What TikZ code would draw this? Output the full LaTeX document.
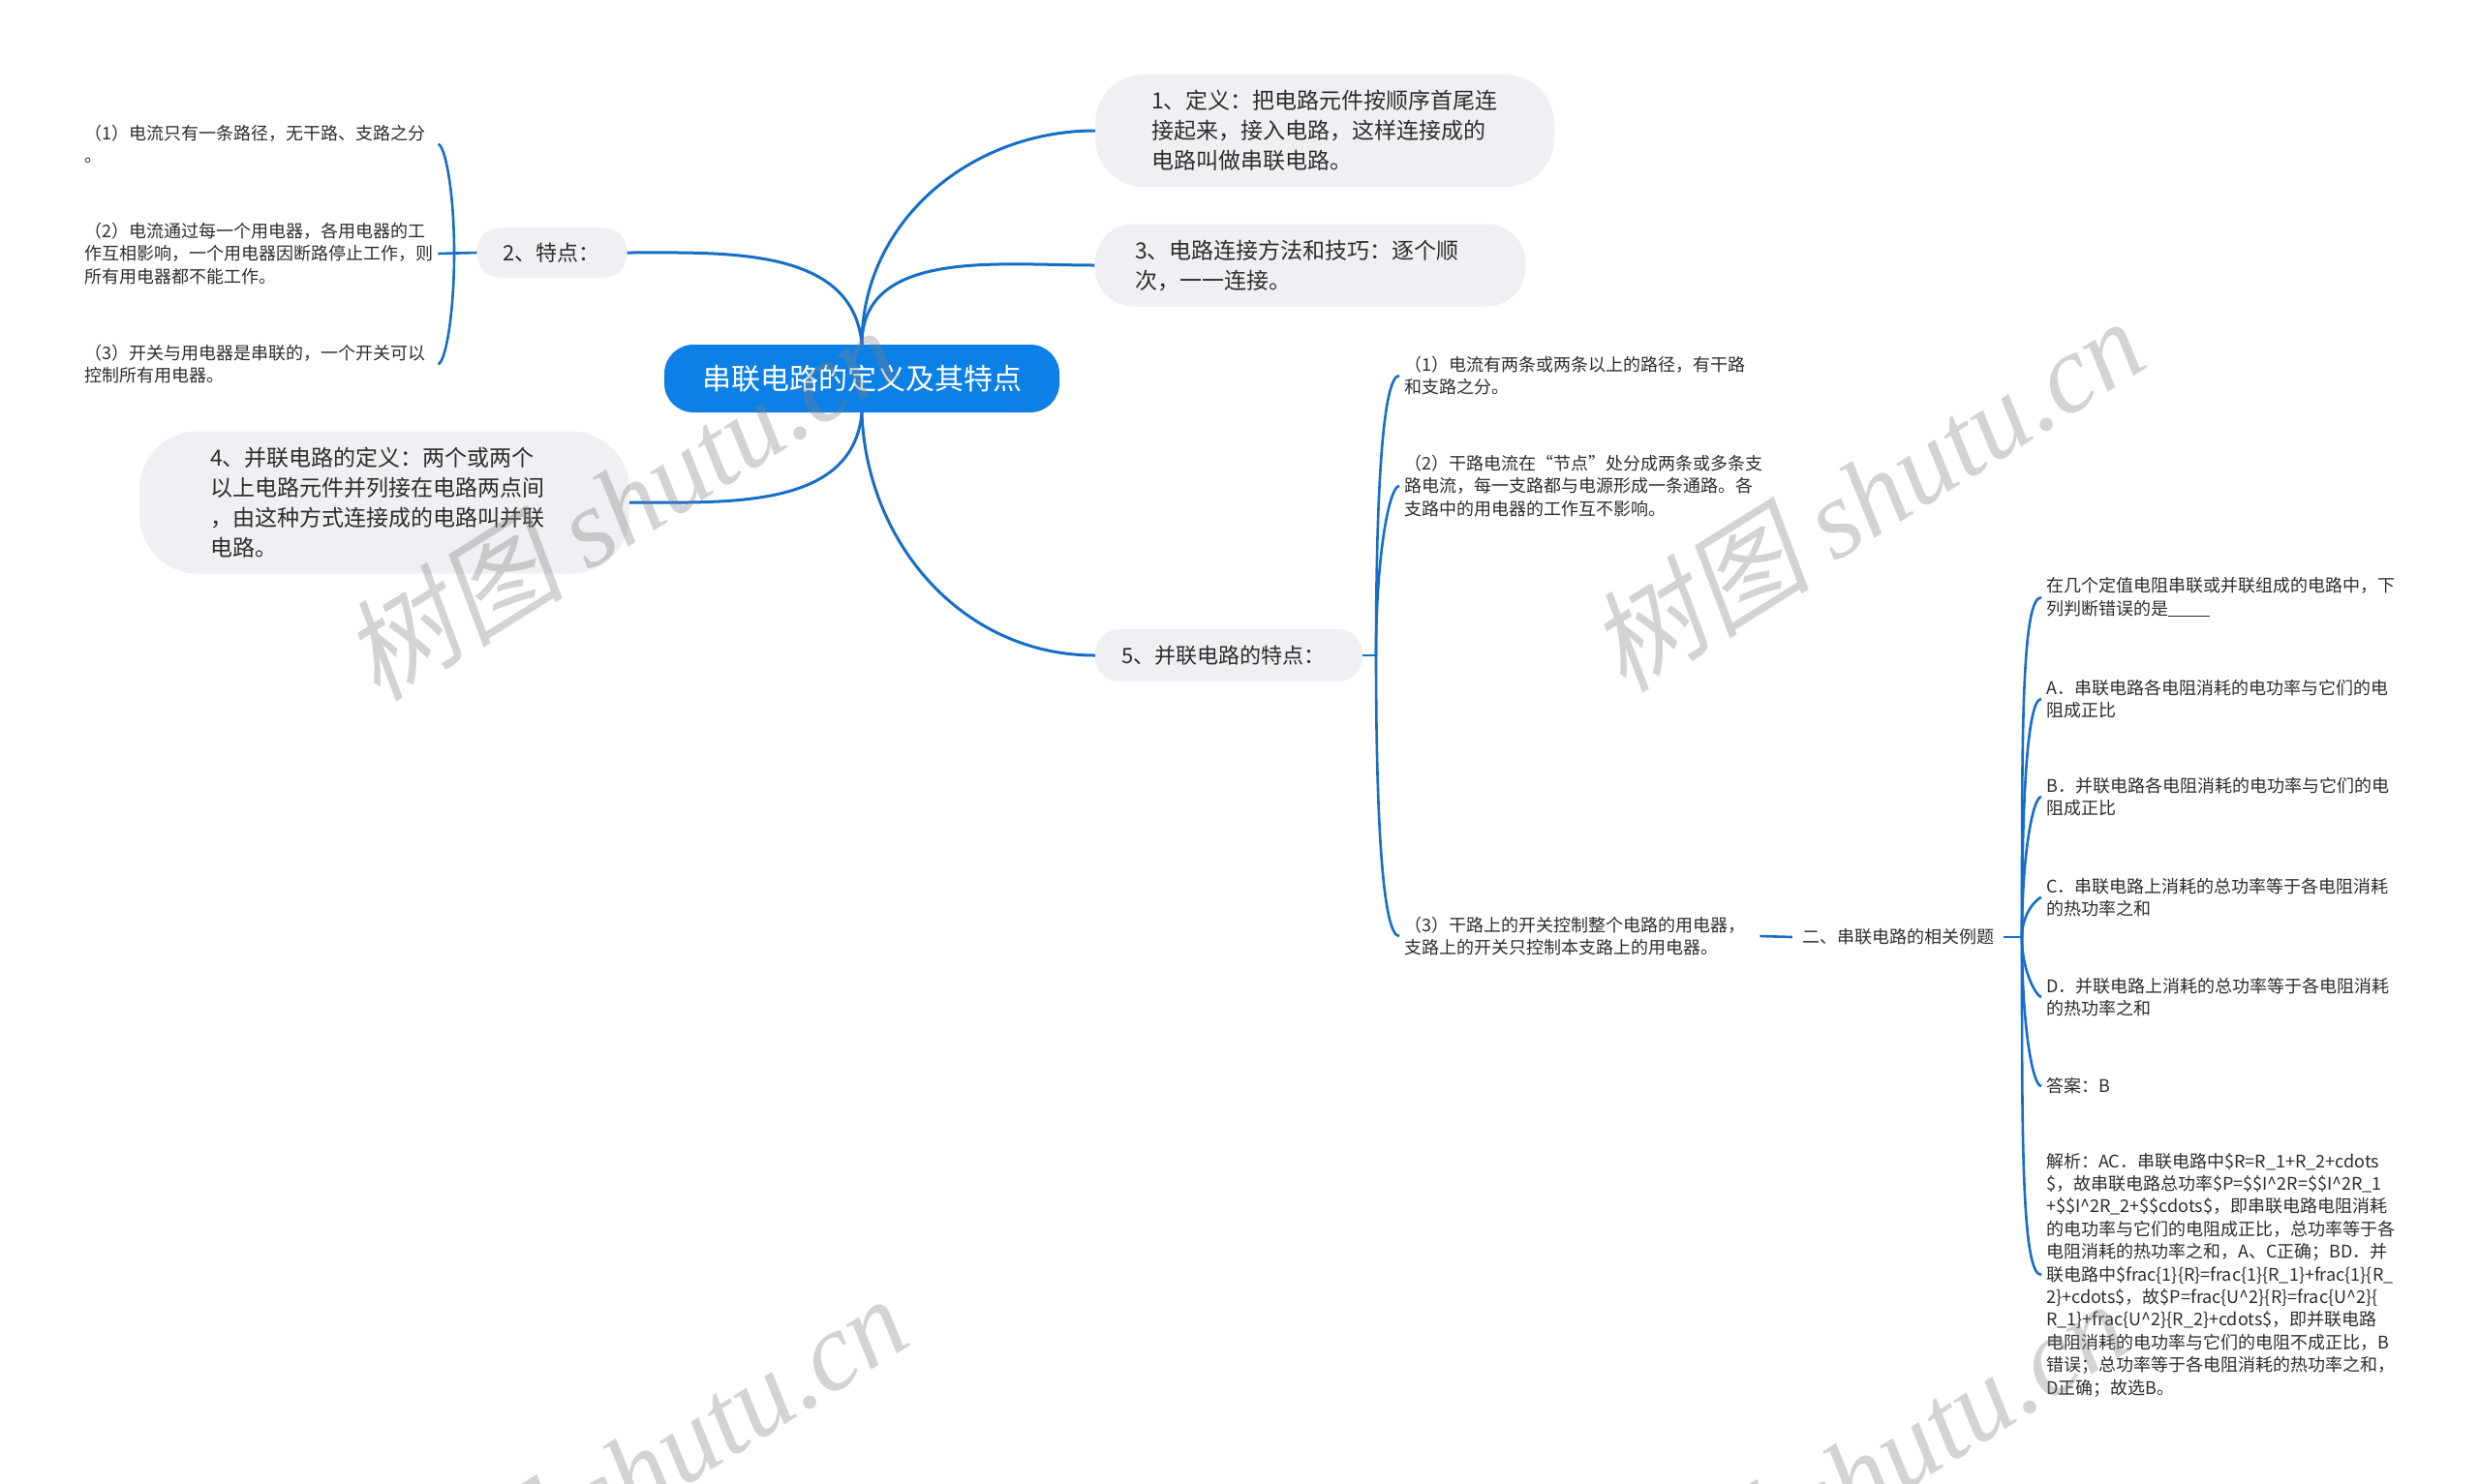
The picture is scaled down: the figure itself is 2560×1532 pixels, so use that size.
\documentclass[tikz,border=0pt]{standalone}
\usepackage{fontspec}
\setmainfont{Noto Sans CJK SC}
\newfontfamily\wmcjk[FakeSlant=0.2]{Noto Sans CJK SC}
\newfontfamily\wmlatin{Liberation Serif}

\definecolor{linkblue}{RGB}{22,110,200}
\definecolor{rootblue}{RGB}{12,128,230}
\definecolor{boxgray}{RGB}{238,240,243}
\definecolor{txtgray}{RGB}{45,45,45}

\tikzset{
	root/.style={fill=rootblue, text=white, rounded corners=30pt,
		minimum width=408pt, minimum height=70pt,
		font=\fontsize{30}{36}\selectfont},
	topic/.style={fill=boxgray, text=txtgray, align=left,
		font=\fontsize{23}{31}\selectfont},
	leaf/.style={text=txtgray, align=left, inner sep=5pt,
		font=\fontsize{18}{23.4}\selectfont},
	link/.style={draw=linkblue, line width=3pt},
	sublink/.style={draw=linkblue, line width=2.6pt,
		out looseness=1.5, in looseness=0.15},
	wmark/.style={text=gray, text opacity=0.35, rotate=32,
		font=\fontsize{115}{115}\selectfont}
}

\begin{document}
\begin{tikzpicture}[x=1pt, y=1pt]
	\useasboundingbox (0,0) rectangle (2560,-1532);
	% centre and first level
	\node[root] (main) at (890,-391) {串联电路的定义及其特点};
	\node[topic, minimum width=474pt, minimum height=116pt, text width=358pt, rounded corners=50pt] (def1) at (1368,-135)
		{1、定义：把电路元件按顺序首尾连\\接起来，接入电路，这样连接成的\\电路叫做串联电路。};
	\node[topic, minimum width=445pt, minimum height=85pt, text width=362pt, rounded corners=40pt] (way3) at (1353,-274)
		{3、电路连接方法和技巧：逐个顺\\次，一一连接。};
	\node[topic, minimum width=155pt, minimum height=52pt, text width=102pt, rounded corners=24pt,
		font=\fontsize{22}{28}\selectfont] (feat2) at (570,-261) {2、特点：};
	\node[topic, minimum width=506pt, minimum height=147pt, text width=360pt, rounded corners=60pt] (def4) at (397,-519)
		{4、并联电路的定义：两个或两个\\以上电路元件并列接在电路两点间\\，由这种方式连接成的电路叫并联\\电路。};
	\node[topic, minimum width=276pt, minimum height=54pt, text width=222pt, rounded corners=25pt,
		font=\fontsize{22}{28}\selectfont] (feat5) at (1269,-677) {5、并联电路的特点：};

	\draw[link] (main.north) to[out=90, in=180] (def1.west);
	\draw[link] (main.north) to[out=90, in=180] (way3.west);
	\draw[link] (main.north) to[out=95, in=0] (feat2.east);
	\draw[link] (main.south) to[out=-95, in=0] (def4.east);
	\draw[link] (main.south) to[out=-88, in=180] (feat5.west);

	% series circuit features
	\node[leaf, anchor=west, text width=360pt] (l1) at (82,-149)
		{（1）电流只有一条路径，无干路、支路之分\\。};
	\node[leaf, anchor=west, text width=360pt] (l2) at (82,-262)
		{（2）电流通过每一个用电器，各用电器的工\\作互相影响，一个用电器因断路停止工作，则\\所有用电器都不能工作。};
	\node[leaf, anchor=west, text width=360pt] (l3) at (82,-376)
		{（3）开关与用电器是串联的，一个开关可以\\控制所有用电器。};
	\coordinate (j2) at (469,-261);
	\draw[sublink] (feat2.west) -- (l2.east);
	\draw[sublink] (j2) to[out=90, in=0] (l1.east);
	\draw[sublink] (j2) to[out=-90, in=0] (l3.east);

	% parallel circuit features
	\node[leaf, anchor=west, text width=362pt] (r1) at (1445,-388)
		{（1）电流有两条或两条以上的路径，有干路\\和支路之分。};
	\node[leaf, anchor=west, text width=362pt] (r2) at (1445,-502)
		{（2）干路电流在“节点”处分成两条或多条支\\路电流，每一支路都与电源形成一条通路。各\\支路中的用电器的工作互不影响。};
	\node[leaf, anchor=west, text width=362pt] (r3) at (1445,-967)
		{（3）干路上的开关控制整个电路的用电器，\\支路上的开关只控制本支路上的用电器。};
	\coordinate (j5) at (1421,-677);
	\draw[sublink] (feat5.east) -- (j5);
	\draw[sublink] (j5) to[out=90, in=180] (r1.west);
	\draw[sublink] (j5) to[out=90, in=180] (r2.west);
	\draw[sublink] (j5) to[out=-90, in=180] (r3.west);

	% example question
	\node[leaf, inner xsep=10pt] (ex) at (1960,-968) {二、串联电路的相关例题};
	\draw[sublink] (r3.east) -- (ex.west);
	\node[leaf, anchor=west, text width=362pt] (q0) at (2108,-617)
		{在几个定值电阻串联或并联组成的电路中，下\\列判断错误的是\rule[-0.12em]{2.4em}{0.07em}};
	\node[leaf, anchor=west, text width=362pt] (qa) at (2108,-722)
		{A．串联电路各电阻消耗的电功率与它们的电\\阻成正比};
	\node[leaf, anchor=west, text width=362pt] (qb) at (2108,-823)
		{B．并联电路各电阻消耗的电功率与它们的电\\阻成正比};
	\node[leaf, anchor=west, text width=362pt] (qc) at (2108,-927)
		{C．串联电路上消耗的总功率等于各电阻消耗\\的热功率之和};
	\node[leaf, anchor=west, text width=362pt] (qd) at (2108,-1030)
		{D．并联电路上消耗的总功率等于各电阻消耗\\的热功率之和};
	\node[leaf, anchor=west, text width=362pt] (ans) at (2108,-1122) {答案：B};
	\node[leaf, anchor=west, text width=362pt] (why) at (2108,-1317)
		{解析：AC．串联电路中\$R=R\_1+R\_2+cdots\\
		\$，故串联电路总功率\$P=\$\$I\textasciicircum 2R=\$\$I\textasciicircum 2R\_1\\
		+\$\$I\textasciicircum 2R\_2+\$\$cdots\$，即串联电路电阻消耗\\
		的电功率与它们的电阻成正比，总功率等于各\\
		电阻消耗的热功率之和，A、C正确；BD．并\\
		联电路中\$frac\{1\}\{R\}=frac\{1\}\{R\_1\}+frac\{1\}\{R\_\\
		2\}+cdots\$，故\$P=frac\{U\textasciicircum 2\}\{R\}=frac\{U\textasciicircum 2\}\{\\
		R\_1\}+frac\{U\textasciicircum 2\}\{R\_2\}+cdots\$，即并联电路\\
		电阻消耗的电功率与它们的电阻不成正比，B\\
		错误；总功率等于各电阻消耗的热功率之和，\\
		D正确；故选B。};
	\coordinate (jq) at (2088,-968);
	\draw[sublink] (ex.east) -- (jq);
	\foreach \q in {q0,qa,qb,qc}
		\draw[sublink] (jq) to[out=90, in=180] (\q.west);
	\foreach \q in {qd,ans,why}
		\draw[sublink] (jq) to[out=-90, in=180] (\q.west);

	% watermarks
	\node[wmark] (wm1) at (640,-519) {\wmcjk 树图 \wmlatin\itshape shutu.cn};
	\node[wmark] (wm2) at (1927,-510) {\wmcjk 树图 \wmlatin\itshape shutu.cn};
	\node[wmark] (wm3) at (650,-1520) {\wmcjk 树图 \wmlatin\itshape shutu.cn};
	\node[wmark] (wm4) at (1910,-1525) {\wmcjk 树图 \wmlatin\itshape shutu.cn};
\end{tikzpicture}
\end{document}
